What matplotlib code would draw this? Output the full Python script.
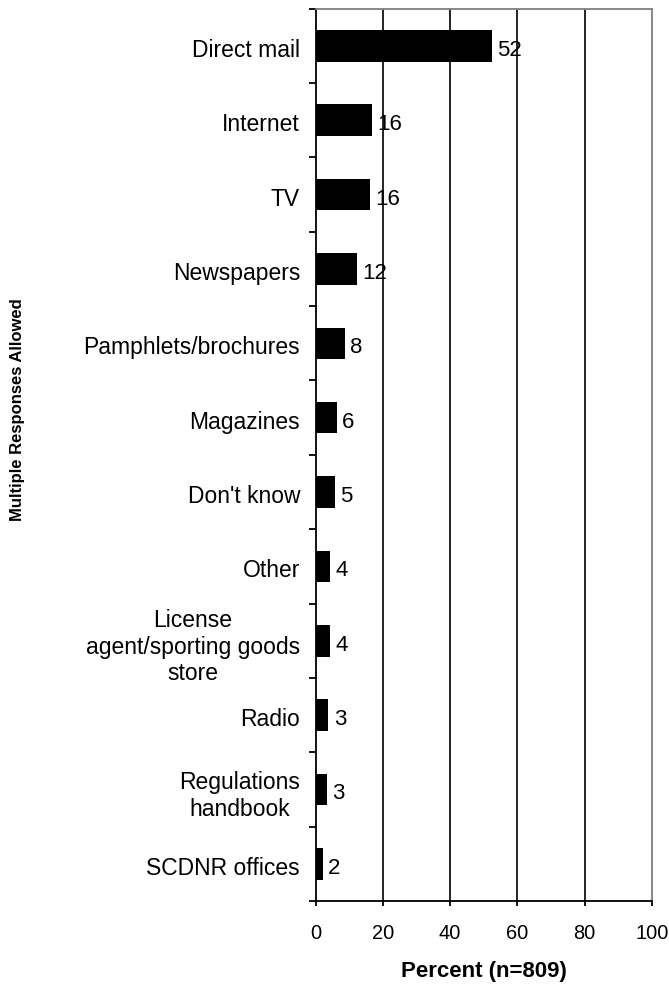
import matplotlib
matplotlib.use("Agg")
import matplotlib.pyplot as plt
import matplotlib.transforms as mtransforms
import numpy as np

plt.rcParams['font.family'] = ['Liberation Sans', 'DejaVu Sans']

categories = [
    "Direct mail", "Internet", "TV", "Newspapers", "Pamphlets/brochures",
    "Magazines", "Don't know", "Other",
    "License\nagent/sporting goods\nstore",
    "Radio", "Regulations\nhandbook", "SCDNR offices",
]
values = [52.4, 16.8, 16.3, 12.2, 8.6, 6.2, 5.6, 4.4, 4.4, 3.8, 3.3, 2.1]
value_labels = ["52", "16", "16", "12", "8", "6", "5", "4", "4", "3", "3", "2"]
x_ticks = [0, 20, 40, 60, 80, 100]

fig = plt.figure(figsize=(6.69, 9.85), dpi=100)
ax = fig.add_axes([315.7 / 669, 1 - 901 / 985, (651.7 - 315.7) / 669, (901 - 8.7) / 985])

y = np.arange(len(categories))
ax.barh(y, values, height=0.425, color="black", zorder=3)

ax.set_xlim(0, 100)
ax.set_ylim(len(categories) - 0.5, -0.5)

# gridlines
ax.set_xticks(x_ticks)
for xv in x_ticks[1:-1]:
    ax.axvline(xv, color="black", lw=1.2, zorder=1)

# spines
ax.spines['top'].set_color('#808080')
ax.spines['right'].set_color('#808080')
ax.spines['top'].set_linewidth(1.3)
ax.spines['right'].set_linewidth(1.3)
ax.spines['left'].set_linewidth(1.3)
ax.spines['bottom'].set_linewidth(1.3)

ax.tick_params(axis='x', direction='out', length=3.6, width=1.3, pad=13, labelsize=14.4)
ax.set_yticks(y)
ax.set_yticklabels(categories, fontsize=16.5, linespacing=1.2, ha='right', multialignment='center')
ax.tick_params(axis='y', which='major', length=0, pad=11.3)
ax.set_yticks(np.arange(-0.5, len(categories) + 0.5, 1.0), minor=True)
ax.tick_params(axis='y', which='minor', direction='out', length=4.8, width=1.3)

offset = mtransforms.ScaledTranslation(0, -2 / 100, fig.dpi_scale_trans)
for lbl in ax.get_yticklabels():
    lbl.set_transform(lbl.get_transform() + offset)

for i, (v, t) in enumerate(zip(values, value_labels)):
    ax.annotate(t, xy=(v, i), xytext=(3.8, -3.2), textcoords='offset points',
                ha='left', va='center', fontsize=16, zorder=4)

ax.set_xlabel("Percent (n=809)", fontsize=16, fontweight='bold')
ax.xaxis.set_label_coords(0.5, -(972 - 901) / (901 - 8.7))
ax.xaxis.label.set_va('center')

fig.text(18 / 669, 1 - 410 / 985, "Multiple Responses Allowed", rotation=90,
         fontsize=12, fontweight='bold', ha='center', va='center')

fig.savefig("out.png", dpi=100)
